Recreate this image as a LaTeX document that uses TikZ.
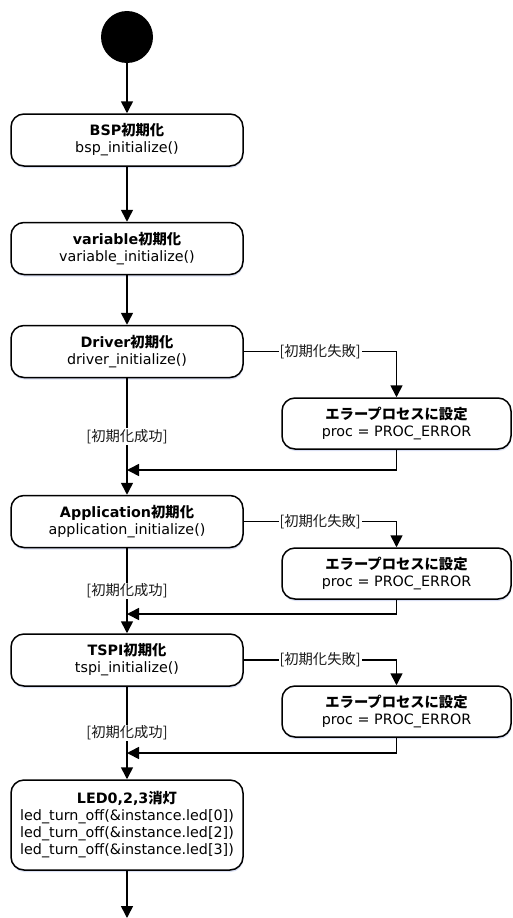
\documentclass[tikz,border=0pt]{standalone}
\usepackage{fontspec}
\setmainfont{DejaVu Sans}
\newfontfamily\jpfont{Noto Sans CJK JP}
\usetikzlibrary{arrows.meta,shadows}
\def\ja#1{{\jpfont #1}}

\tikzset{
	act/.style={draw, line width=1.5pt, rounded corners=13pt, fill=white, align=center,
		minimum width=232pt, minimum height=52pt, inner sep=2pt,
		font=\fontsize{14.3}{17}\selectfont,
		drop shadow={shadow xshift=0.5pt, shadow yshift=-2pt, fill=cyan!40!blue!20, opacity=0.7}},
	errbox/.style={act, minimum width=229pt, minimum height=51pt},
	flow/.style={line width=1.6pt, -{Triangle[width=12pt,length=12pt]}},
	guard/.style={fill=white, inner sep=1pt, font=\fontsize{14.3}{17}\selectfont, text=black!90},
}

\begin{document}
\begin{tikzpicture}[x=1pt, y=-1pt]
				\useasboundingbox (0,0) rectangle (512,918);
				
				\node[circle, fill=black, minimum size=52pt, inner sep=0pt] (start) at (127,37) {};
				
				\node[act] (bsp) at (127,140) {\textbf{BSP\ja{初期化}}\\bsp\_initialize()};
				\node[act] (var) at (127,248.5) {\textbf{variable\ja{初期化}}\\variable\_initialize()};
				\node[act] (drv) at (127,351.5) {\textbf{Driver\ja{初期化}}\\driver\_initialize()};
				\node[errbox] (err1) at (396.5,423.5) {\textbf{\ja{エラープロセスに設定}}\\proc = PROC\_ERROR};
				\node[act] (app) at (127,521.5) {\textbf{Application\ja{初期化}}\\application\_initialize()};
				\node[errbox] (err2) at (396.5,573.5) {\textbf{\ja{エラープロセスに設定}}\\proc = PROC\_ERROR};
				\node[act] (tspi) at (127,660) {\textbf{TSPI\ja{初期化}}\\tspi\_initialize()};
				\node[errbox] (err3) at (396.5,711.5) {\textbf{\ja{エラープロセスに設定}}\\proc = PROC\_ERROR};
				\node[act, minimum height=90pt] (led) at (127,825) {\textbf{LED0,2,3\ja{消灯}}\\led\_turn\_off(\&instance.led[0])\\led\_turn\_off(\&instance.led[2])\\led\_turn\_off(\&instance.led[3])};
				
				\coordinate (m1) at (127,470);
				\coordinate (m2) at (127,614);
				\coordinate (m3) at (127,753);
				\coordinate (stop) at (127,918);
				
				\draw[flow] (start) -- (bsp);
				\draw[flow] (bsp) -- (var);
				\draw[flow] (var) -- (drv);
				
				\draw[flow] (drv) -- node[guard] {\ja{[初期化成功]}} (app);
				\draw[flow] (drv.east) -| node[guard, pos=0.25] {\ja{[初期化失敗]}} (err1.north);
				\draw[flow] (err1.south) |- (m1);
				
				\draw[flow] (app) -- node[guard] {\ja{[初期化成功]}} (tspi);
				\draw[flow] (app.east) -| node[guard, pos=0.25] {\ja{[初期化失敗]}} (err2.north);
				\draw[flow] (err2.south) |- (m2);
				
				\draw[flow] (tspi) -- node[guard] {\ja{[初期化成功]}} (led);
				\draw[flow] (tspi.east) -| node[guard, pos=0.25] {\ja{[初期化失敗]}} (err3.north);
				\draw[flow] (err3.south) |- (m3);
				
				\draw[flow] (led) -- (stop);
\end{tikzpicture}
\end{document}
